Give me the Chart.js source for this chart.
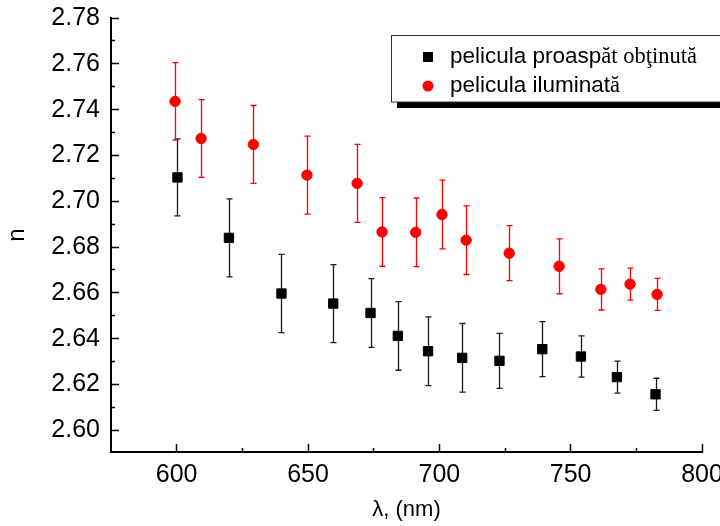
<!DOCTYPE html>
<html>
<head>
<meta charset="utf-8">
<script src="https://cdn.jsdelivr.net/npm/chart.js@4/dist/chart.umd.min.js"></script>
<style>
  body { margin: 0; background: #fff; }
  #grafica { display: block; }
</style>
</head>
<body>
<canvas id="grafica" width="720" height="526"></canvas>
<script>
// pelicula proaspat obtinuta (patrate negre)
var lambdaProaspat = [600.3, 619.9, 639.9, 659.6, 673.8, 684.2, 695.7, 708.7, 722.9, 739.2, 753.9, 767.6, 782.3];
var nProaspat      = [2.7104, 2.6840, 2.6597, 2.6553, 2.6512, 2.6412, 2.6345, 2.6316, 2.6303, 2.6354, 2.6322, 2.6232, 2.6157];
var errProaspat    = [0.0168, 0.0170, 0.0171, 0.0170, 0.0150, 0.0150, 0.0150, 0.0150, 0.0120, 0.0120, 0.0090, 0.0070, 0.0070];

// pelicula iluminata (cercuri rosii)
var lambdaIluminat = [599.4, 609.3, 629.2, 649.6, 668.7, 678.2, 691.0, 701.0, 710.2, 726.6, 745.6, 761.5, 772.6, 782.9];
var nIluminat      = [2.7436, 2.7274, 2.7248, 2.7114, 2.7078, 2.6866, 2.6864, 2.6942, 2.6830, 2.6773, 2.6716, 2.6615, 2.6638, 2.6593];
var errIluminat    = [0.0169, 0.0170, 0.0170, 0.0170, 0.0170, 0.0150, 0.0150, 0.0150, 0.0150, 0.0120, 0.0120, 0.0090, 0.0070, 0.0070];

var ticksX      = [600, 650, 700, 750, 800];
var ticksXMinor = [625, 675, 725, 775];
var ticksY      = [2.60, 2.62, 2.64, 2.66, 2.68, 2.70, 2.72, 2.74, 2.76, 2.78];
var ticksYMinor = [2.61, 2.63, 2.65, 2.67, 2.69, 2.71, 2.73, 2.75, 2.77];

// partea din eticheta scrisa cu Arial si partea scrisa cu Times
var legendaSans  = ['pelicula proasp', 'pelicula iluminat'];
var legendaSerif = ['ăt obţinută', 'ă'];

var LIM_X = [575, 800];
var LIM_Y = [2.5905, 2.78];

function puncte(xs, ys) {
    var res = [];
    for (var i = 0; i < xs.length; i++) {
        res.push({x: xs[i], y: ys[i]});
    }
    return res;
}

// bare de eroare, desenate sub markere
var bareEroare = {
    id: 'bareEroare',
    beforeDatasetsDraw: function (chart) {
        var ctx = chart.ctx;
        var sx = chart.scales.x, sy = chart.scales.y;
        ctx.save();
        chart.data.datasets.forEach(function (ds) {
            ctx.strokeStyle = ds.errColor;
            ctx.lineWidth = 1.3;
            ds.data.forEach(function (p, i) {
                var px = Math.round(sx.getPixelForValue(p.x)) + 0.5;
                var y1 = sy.getPixelForValue(p.y + ds.errori[i]);
                var y2 = sy.getPixelForValue(p.y - ds.errori[i]);
                ctx.beginPath();
                ctx.moveTo(px, y1); ctx.lineTo(px, y2);
                ctx.moveTo(px - 3, y1); ctx.lineTo(px + 3, y1);
                ctx.moveTo(px - 3, y2); ctx.lineTo(px + 3, y2);
                ctx.stroke();
            });
        });
        ctx.restore();
    }
};

// legenda cu umbra neagra, ca in original
var legendaCutie = {
    id: 'legendaCutie',
    afterDraw: function (chart) {
        var ctx = chart.ctx;
        ctx.save();
        ctx.fillStyle = '#000';
        ctx.fillRect(397, 102, 330, 6);
        ctx.fillStyle = '#fff';
        ctx.fillRect(391, 35, 340, 67);
        ctx.strokeStyle = '#333';
        ctx.lineWidth = 1;
        ctx.strokeRect(391.5, 35.5, 340, 66.5);

        chart.data.datasets.forEach(function (ds, i) {
            var cy = 57 + i * 29;
            ctx.fillStyle = ds.backgroundColor;
            if (ds.pointStyle === 'rect') {
                ctx.fillRect(423, cy - 5, 10, 10);
            } else {
                ctx.beginPath();
                ctx.arc(428, cy, 5.5, 0, Math.PI * 2);
                ctx.fill();
            }
            ctx.fillStyle = '#000';
            ctx.textBaseline = 'alphabetic';
            ctx.font = '22.5px "Liberation Sans"';
            var w = ctx.measureText(legendaSans[i]).width;
            ctx.fillText(legendaSans[i], 450, cy + 6);
            ctx.font = '22.5px "Liberation Serif"';
            ctx.fillText(legendaSerif[i], 450 + w, cy + 6);
        });
        ctx.restore();
    }
};

function ticksFixe(lista) {
    return function (scale) {
        scale.ticks = lista.map(function (v) { return {value: v}; });
    };
}

var ctx = document.getElementById('grafica').getContext('2d');
Chart.defaults.font.family = '"Liberation Sans", Arial, sans-serif';
Chart.defaults.color = '#000';

new Chart(ctx, {
    type: 'scatter',
    data: {
        datasets: [{
            label: legendaSans[0] + legendaSerif[0],
            data: puncte(lambdaProaspat, nProaspat),
            errori: errProaspat,
            errColor: '#1a1a1a',
            pointStyle: 'rect',
            pointRadius: 6.6,
            borderWidth: 1,
            backgroundColor: '#000',
            borderColor: '#000'
        }, {
            label: legendaSans[1] + legendaSerif[1],
            data: puncte(lambdaIluminat, nIluminat),
            errori: errIluminat,
            errColor: '#ff0000',
            pointStyle: 'circle',
            pointRadius: 5.2,
            borderWidth: 1,
            backgroundColor: '#ff0000',
            borderColor: '#ff0000'
        }]
    },
    options: {
        responsive: false,
        animation: false,
        events: [],
        layout: {padding: {top: 18, right: 18, left: 0, bottom: 0}},
        plugins: {legend: {display: false}, tooltip: {enabled: false}},
        scales: {
            x: {
                type: 'linear', position: 'bottom', weight: 1,
                min: LIM_X[0], max: LIM_X[1],
                afterBuildTicks: ticksFixe(ticksX),
                afterFit: function (s) { s.height = 74; s.paddingLeft = 0; s.paddingRight = 0; },
                grid: {drawOnChartArea: false, drawTicks: true, tickLength: -8, tickWidth: 1.5, tickColor: '#000'},
                border: {display: true, color: '#000', width: 2},
                ticks: {padding: 16, font: {size: 25}, maxRotation: 0, callback: function (v) { return String(v); }},
                title: {display: true, text: 'λ, (nm)', font: {size: 22}, padding: {top: 0, bottom: 3}}
            },
            x2: {
                type: 'linear', position: 'bottom', weight: 0,
                min: LIM_X[0], max: LIM_X[1],
                afterBuildTicks: ticksFixe(ticksXMinor),
                afterFit: function (s) { s.height = 0; s.paddingLeft = 0; s.paddingRight = 0; },
                grid: {drawOnChartArea: false, drawTicks: true, tickLength: -4, tickWidth: 1.5, tickColor: '#000'},
                border: {display: false},
                ticks: {display: false}
            },
            y: {
                type: 'linear', position: 'left', weight: 1,
                min: LIM_Y[0], max: LIM_Y[1],
                afterBuildTicks: ticksFixe(ticksY),
                afterFit: function (s) { s.width = 111; s.paddingTop = 0; s.paddingBottom = 0; },
                grid: {drawOnChartArea: false, drawTicks: true, tickLength: -8, tickWidth: 1.5, tickColor: '#000'},
                border: {display: true, color: '#000', width: 2},
                ticks: {padding: 19, font: {size: 25}, callback: function (v) { return v.toFixed(2); }},
                title: {display: true, text: 'n', font: {size: 24}, padding: {top: 3, bottom: 0}}
            },
            y2: {
                type: 'linear', position: 'left', weight: 0,
                min: LIM_Y[0], max: LIM_Y[1],
                afterBuildTicks: ticksFixe(ticksYMinor),
                afterFit: function (s) { s.width = 0; s.paddingTop = 0; s.paddingBottom = 0; },
                grid: {drawOnChartArea: false, drawTicks: true, tickLength: -4, tickWidth: 1.5, tickColor: '#000'},
                border: {display: false},
                ticks: {display: false}
            }
        }
    },
    plugins: [bareEroare, legendaCutie]
});
</script>
</body>
</html>
